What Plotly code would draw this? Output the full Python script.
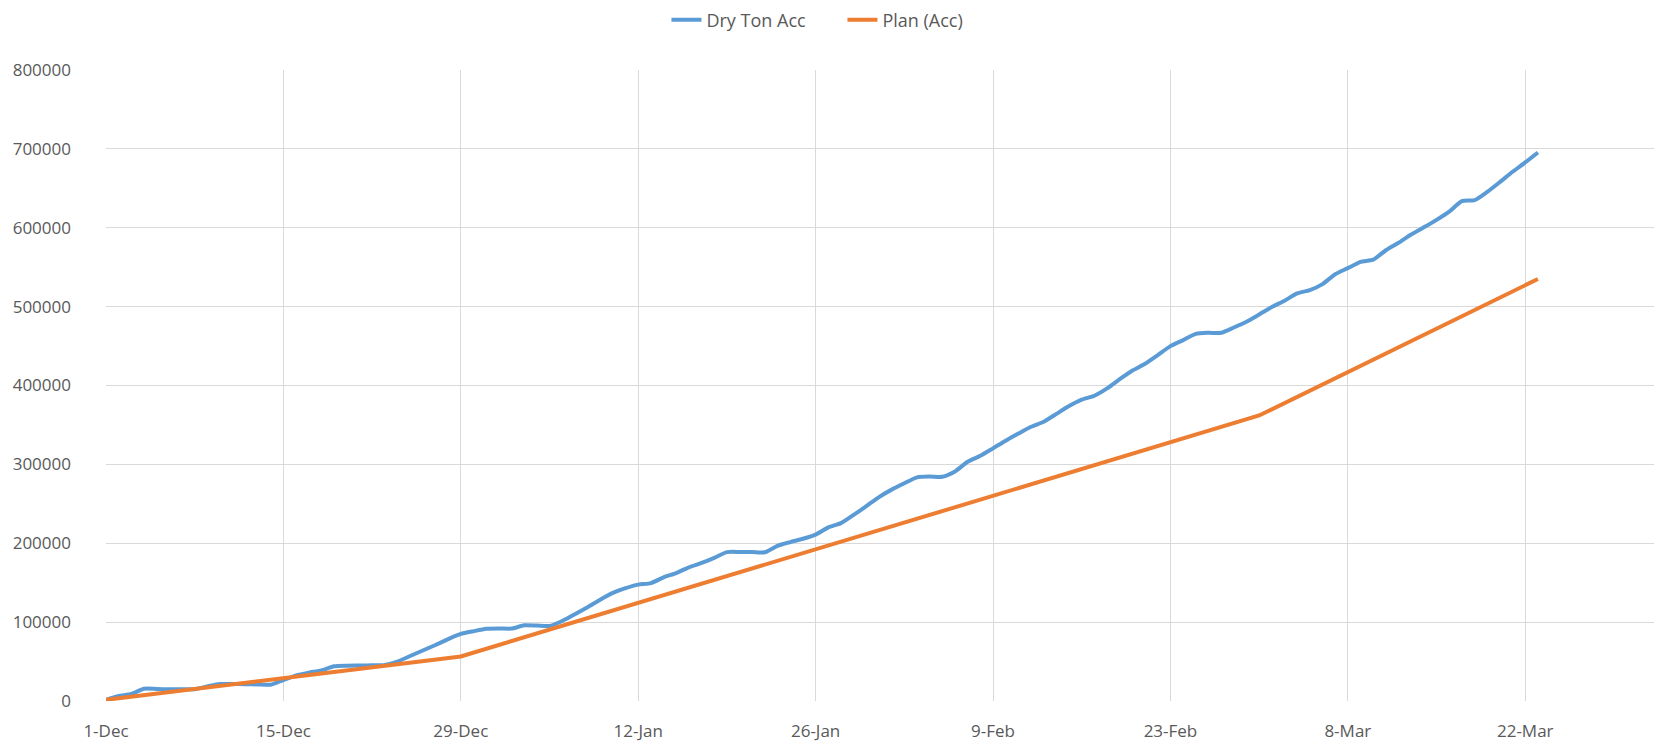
import datetime as dt
import plotly.graph_objects as go

# ---- data ----
start = dt.date(2019, 12, 1)
dry_ton_acc = [
    1500, 6300, 8900, 15600, 15200, 14900, 15000, 15000, 18500, 21500,
    21500, 21300, 21000, 20700, 26600, 32500, 36000, 38800, 44000, 44800,
    45000, 45200, 45800, 50000, 57000, 64000, 71000, 78500, 85000, 88500,
    91600, 92000, 91800, 95900, 95600, 95100, 101500, 110000, 119000, 128500,
    137000, 143000, 147500, 149500, 156800, 162200, 169500, 175000, 181500, 188800,
    189000, 188800, 188500, 196800, 201500, 205700, 211000, 220100, 225500, 236000,
    247000, 258500, 268000, 276000, 283500, 284500, 284300, 291000, 303300, 310900,
    320300, 330000, 339000, 347700, 354000, 364000, 374000, 382000, 387000, 396300,
    408000, 419000, 427500, 438500, 449900, 457500, 465500, 466800, 466800, 473500,
    480800, 490000, 499500, 507500, 516700, 520900, 528500, 541000, 548800, 556800,
    559500, 571500, 581000, 591500, 600500, 610000, 620500, 633700, 635000, 645500,
    658000, 671000, 682800, 695400,
]
dry_dates = [start + dt.timedelta(days=i) for i in range(len(dry_ton_acc))]

plan_dates = ["2019-12-01", "2019-12-29", "2020-03-01", "2020-03-23"]
plan_acc = [1500, 56500, 362000, 535000]

series_names = ["Dry Ton Acc", "Plan (Acc)"]
y_ticks = [0, 100000, 200000, 300000, 400000, 500000, 600000, 700000, 800000]

# ---- figure ----
fig = go.Figure()
fig.add_trace(go.Scatter(
    x=dry_dates, y=dry_ton_acc, mode="lines", name=series_names[0],
    line=dict(color="#5B9BD5", width=4, shape="spline", smoothing=0.6),
))
fig.add_trace(go.Scatter(
    x=plan_dates, y=plan_acc, mode="lines", name=series_names[1],
    line=dict(color="#ED7D31", width=4),
))

font_family = "Open Sans, Liberation Sans, sans-serif"
fig.update_layout(
    width=1654, height=735,
    margin=dict(l=98, r=0, t=62, b=42, autoexpand=False),
    paper_bgcolor="white", plot_bgcolor="white",
    font=dict(family=font_family, size=17, color="#595959"),
    showlegend=True,
    legend=dict(orientation="h", x=0.4733, xanchor="center", y=1.079, yanchor="middle",
                font=dict(size=18, color="#595959"),
                entrywidth=131, entrywidthmode="pixels"),
    hovermode=False,
)
fig.update_xaxes(
    type="date",
    range=["2019-12-01", "2020-04-01 19:00"],
    tick0="2019-12-01", dtick=14 * 86400000,
    tickformat="%-d-%b",
    showgrid=True, gridcolor="#D9D9D9", gridwidth=1,
    zeroline=False, showline=False, ticks="",
    ticklabelstandoff=18, automargin=False,
)
fig.update_yaxes(
    range=[0, 800000],
    tickvals=y_ticks, tickformat="d",
    showgrid=True, gridcolor="#D9D9D9", gridwidth=1,
    zeroline=False, showline=False, ticks="",
    ticklabelstandoff=34, automargin=False,
)

fig.write_html("out.html")
